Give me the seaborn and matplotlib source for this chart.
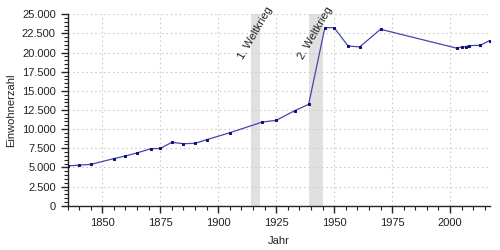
import matplotlib
matplotlib.use("Agg")
import matplotlib.pyplot as plt
import matplotlib.ticker as mticker
import seaborn as sns
import pandas as pd

years = [1835, 1840, 1845, 1855, 1860, 1865, 1871, 1875, 1880, 1885, 1890, 1895,
         1905, 1919, 1925, 1933, 1939, 1946, 1950, 1956, 1961, 1970,
         2003, 2005, 2007, 2008, 2013, 2017]
population = [5200, 5300, 5400, 6150, 6500, 6900, 7450, 7480, 8280, 8100, 8150, 8620,
              9530, 10930, 11150, 12410, 13240, 23250, 23250, 20860, 20730, 23040,
              20560, 20730, 20770, 20900, 20950, 21550]
war_labels = ["1. Weltkrieg", "2. Weltkrieg"]
war_starts = [1914, 1939]
war_ends = [1918, 1945]

sns.set_style("ticks")
plt.rcParams["font.family"] = ["Liberation Sans", "DejaVu Sans"]

df = pd.DataFrame({"Jahr": years, "Einwohnerzahl": population})

fig = plt.figure(figsize=(5, 2.5), dpi=100)
ax = fig.add_axes([0.135, 0.177, 0.844, 0.766])

for lab, s, e in zip(war_labels, war_starts, war_ends):
    ax.axvspan(s, e, color="#e0e0e0", lw=0, zorder=0)
    ax.text((s + e) / 2, 22500, lab, rotation=60, ha="center", va="center",
            fontsize=8, color="#222222", zorder=3)

sns.lineplot(data=df, x="Jahr", y="Einwohnerzahl", ax=ax, color="#4646aa", lw=0.9,
             marker="s", markersize=2.0, markerfacecolor="#10107a",
             markeredgecolor="#10107a", zorder=4)

ax.set_xlim(1835, 2017)
ax.set_ylim(0, 25000)
ax.xaxis.set_major_locator(mticker.MultipleLocator(25))
ax.xaxis.set_minor_locator(mticker.MultipleLocator(5))
ax.yaxis.set_major_locator(mticker.MultipleLocator(2500))
ax.yaxis.set_minor_locator(mticker.MultipleLocator(500))
ax.yaxis.set_major_formatter(mticker.FuncFormatter(lambda v, p: f"{int(v):,}".replace(",", ".")))

ax.grid(True, which="major", color="#cccccc", linestyle=(0, (1.5, 2.5)), lw=0.8, zorder=1)
ax.set_axisbelow(True)
for side in ["top", "right"]:
    ax.spines[side].set_visible(False)
ax.spines["left"].set_linewidth(1.0)
ax.spines["bottom"].set_linewidth(1.0)
ax.tick_params(axis="both", which="major", labelsize=8, length=5, width=1,
               color="#222222", labelcolor="#222222")
ax.tick_params(axis="both", which="minor", length=3, width=0.8, color="#222222")

ax.set_xlabel("Jahr", fontsize=8, color="#222222", labelpad=6)
ax.set_ylabel("Einwohnerzahl", fontsize=8, color="#222222", labelpad=4)

fig.savefig("out.png", dpi=100)
